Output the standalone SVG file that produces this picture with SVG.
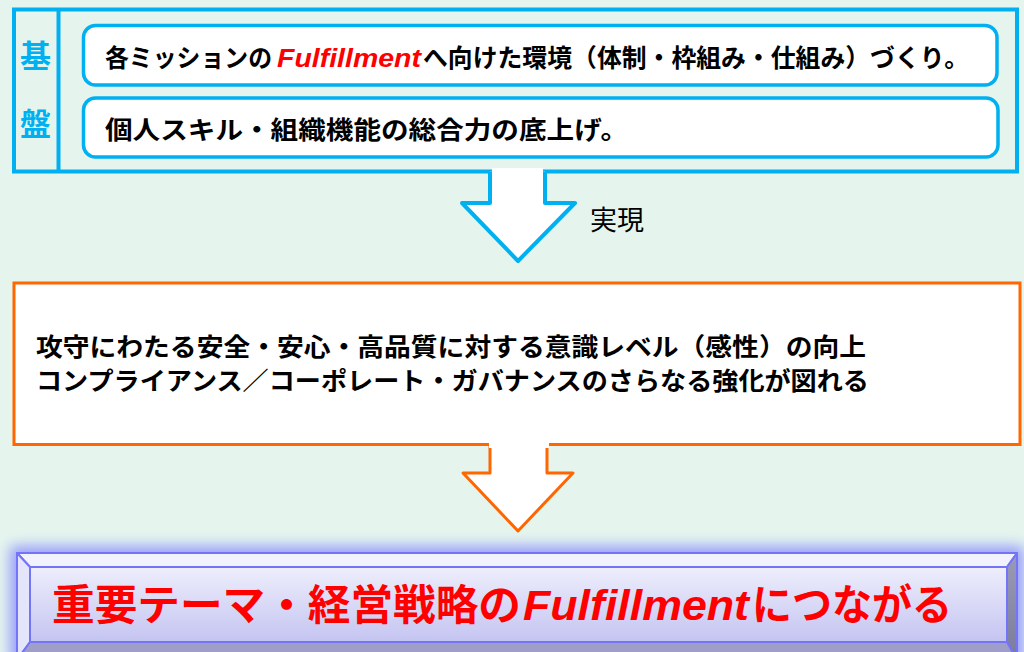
<svg xmlns="http://www.w3.org/2000/svg" width="1024" height="652" viewBox="0 0 1024 652">
<style>
.jp{font-family:"Noto Sans CJK JP","Noto Sans",sans-serif;font-weight:bold;fill:#000}
.lat{font-family:"Liberation Sans",Arial,sans-serif;font-weight:bold;font-style:italic;fill:#ff0000}
.blue{fill:none;stroke:#00b0f0;stroke-width:4}
.inner{fill:#fff;stroke:#00b0f0;stroke-width:3.5}
</style>
<defs>
<filter id="glow" x="-10%" y="-50%" width="120%" height="200%"><feGaussianBlur stdDeviation="7"/></filter>
<linearGradient id="face" x1="0" y1="0" x2="0" y2="1"><stop offset="0" stop-color="#eeeefc"/><stop offset="1" stop-color="#c4c4f2"/></linearGradient>
<linearGradient id="rb" x1="0" y1="0" x2="0" y2="1"><stop offset="0" stop-color="#9a9ab8"/><stop offset="1" stop-color="#7a7a9c"/></linearGradient>
</defs>
<rect width="1024" height="652" fill="#e5f5ee"/>

<g id="base">
<rect x="14" y="9.5" width="1003" height="162" fill="#fff" class="blue"/>
<line x1="58.5" y1="9.5" x2="58.5" y2="171.5" class="blue"/>
<text class="jp" x="20" y="67" font-size="31" style="fill:#00b0f0">基</text>
<text class="jp" x="20" y="135" font-size="31" style="fill:#00b0f0">盤</text>
</g>
<g id="item1">
<rect x="83.5" y="25.5" width="913.5" height="59.5" rx="12" class="inner"/>
<text class="jp" x="105" y="67" font-size="25" textLength="167" lengthAdjust="spacingAndGlyphs">各ミッションの</text>
<text class="lat" x="277" y="67" font-size="26" textLength="144" lengthAdjust="spacingAndGlyphs">Fulfillment</text>
<text class="jp" x="423" y="67" font-size="25" textLength="546" lengthAdjust="spacingAndGlyphs">へ向けた環境（体制・枠組み・仕組み）づくり。</text>
</g>
<g id="item2">
<rect x="83.5" y="98" width="914.5" height="59" rx="12" class="inner"/>
<text class="jp" x="105" y="139" font-size="25" textLength="523" lengthAdjust="spacingAndGlyphs">個人スキル・組織機能の総合力の底上げ。</text>
</g>

<g id="connectors">
<g id="arrow1">
<rect x="492" y="168" width="51" height="8" fill="#fff"/>
<path d="M490,171.5 V203 H462 L518,261 L575,203 H545 V171.5" fill="#fff" stroke="#00b0f0" stroke-width="4" stroke-linejoin="round"/>
<text x="590" y="230" font-size="27" style="font-family:'Noto Sans CJK JP',sans-serif;fill:#000">実現</text>
</g>
<g id="arrow2">
<path d="M490,444.5 V473 H463 L518,531 L573,473 H547 V444.5" fill="#fff" stroke="#ff6600" stroke-width="3" stroke-linejoin="round"/>
</g>
</g>

<g id="result">
<rect x="14" y="283" width="1006" height="161.5" fill="#fff" stroke="#ff6600" stroke-width="3"/>
<rect x="489" y="440" width="60" height="8" fill="#fff"/>
<text class="jp" x="36" y="356" font-size="25" textLength="830" lengthAdjust="spacingAndGlyphs">攻守にわたる安全・安心・高品質に対する意識レベル（感性）の向上</text>
<text class="jp" x="36" y="390" font-size="25" textLength="833" lengthAdjust="spacingAndGlyphs">コンプライアンス／コーポレート・ガバナンスのさらなる強化が図れる</text>
</g>

<g id="goal">
<rect x="10" y="546" width="1014" height="120" fill="#7f7fff" opacity="0.75" filter="url(#glow)"/>
<rect x="17" y="553" width="1000" height="110" fill="url(#face)"/>
<polygon points="17,553 1017,553 1007,567 30,567" fill="#f2f2fe" stroke="#7474f6" stroke-width="2" stroke-linejoin="round"/>
<polygon points="17,553 30,567 30,642 17,660" fill="#e4e4fa" stroke="#7474f6" stroke-width="2" stroke-linejoin="round"/>
<polygon points="1017,553 1017,660 1007,642 1007,567" fill="url(#rb)" stroke="#7474f6" stroke-width="2" stroke-linejoin="round"/>
<polygon points="17,660 30,642 1007,642 1017,660" fill="#9e9ec8" stroke="#7474f6" stroke-width="2" stroke-linejoin="round"/>
<rect x="30" y="567" width="977" height="75" fill="url(#face)" stroke="#7474f6" stroke-width="2"/>
<text class="jp" x="52" y="620" font-size="42" textLength="469" lengthAdjust="spacingAndGlyphs" style="fill:#ff0000">重要テーマ・経営戦略の</text>
<text class="lat" x="523" y="620" font-size="42" textLength="226" lengthAdjust="spacingAndGlyphs">Fulfillment</text>
<text class="jp" x="752" y="620" font-size="42" textLength="200" lengthAdjust="spacingAndGlyphs" style="fill:#ff0000">につながる</text>
</g>
</svg>
